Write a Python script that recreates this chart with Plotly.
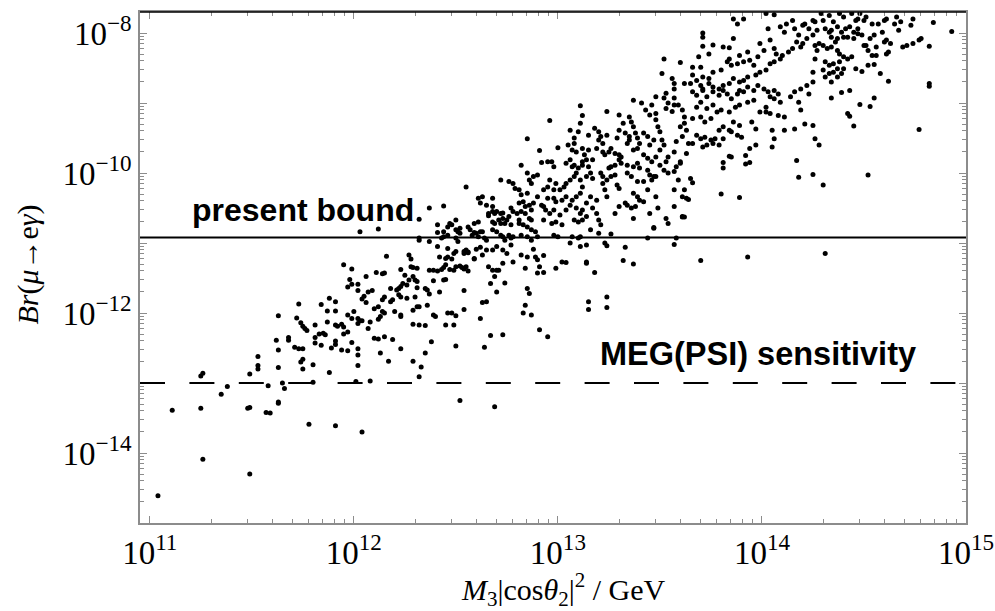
import plotly.graph_objects as go

# log10 values: (log10 M3|cos θ2|^2 / GeV, log10 Br)
pts_low = [
(11.04,-14.61),(11.11,-13.39),(11.25,-13.36),(11.26,-14.09),(11.25,-12.90),(11.26,-12.86),(11.35,-13.16),(11.38,-13.05),
(11.49,-14.30),(11.48,-13.36),(11.49,-13.35),(11.49,-12.87),(11.53,-12.62),(11.53,-12.75),(11.53,-12.80),(11.57,-13.42),
(11.59,-13.43),(11.58,-13.04),(11.62,-12.39),(11.63,-12.04),(11.63,-12.53),(11.63,-12.78),(11.63,-13.29),(11.63,-13.27),
(11.65,-13.00),(11.66,-13.08),(11.68,-12.35),(11.68,-12.39),(11.71,-12.49),(11.72,-12.07),(11.73,-11.87),(11.74,-12.14),
(11.73,-12.51),(11.75,-12.51),(11.74,-12.70),(11.75,-12.66),(11.75,-12.80),(11.75,-12.19),(11.76,-12.22),(11.77,-12.25),
(11.78,-13.59),(11.80,-12.74),(11.80,-12.99),(11.81,-12.43),(11.81,-12.17),(11.81,-12.35),(11.83,-12.30),(11.84,-11.88),
(11.84,-12.46),(11.85,-12.29),(11.86,-12.31),(11.87,-11.97),(11.88,-11.79),(11.87,-12.13),(11.88,-12.85),(11.89,-12.50),
(11.91,-13.61),(11.91,-11.97),(11.91,-11.84),(11.91,-12.17),(11.92,-12.19),(11.91,-12.40),(11.91,-12.45),(11.94,-12.53),
(11.94,-12.16),(11.95,-12.20),(11.95,-12.30),(11.95,-11.31),(11.99,-11.37),(11.98,-11.52),(11.97,-11.63),(11.99,-11.59),
(12.02,-11.59),(12.02,-11.68),(11.97,-12.03),(11.97,-12.27),(11.99,-12.42),(11.97,-12.54),(12.00,-11.98),(11.99,-12.08),
(12.02,-12.08),(12.03,-12.11),(12.02,-12.15),(12.04,-12.11),(12.02,-12.51),(12.02,-12.60),(12.02,-12.75),(12.01,-12.98),
(12.04,-13.70),(12.08,-12.97),(12.06,-11.48),(12.11,-11.42),(12.04,-11.80),(12.06,-11.85),(12.05,-11.76),(12.07,-11.70),
(12.09,-11.68),(12.08,-12.13),(12.07,-12.22),(12.10,-12.36),(12.12,-12.37),(12.10,-11.94),(12.12,-11.91),(12.12,-12.09),
]

pts_mid_low = [
(12.03,-10.84),(12.12,-10.80),(12.16,-11.19),(12.14,-11.44),(12.15,-11.43),(12.23,-11.38),(12.27,-11.17),(12.28,-11.23),
(12.28,-11.34),(12.29,-11.35),(12.31,-11.36),(12.25,-11.46),(12.29,-11.48),(12.27,-11.53),(12.26,-11.60),(12.30,-11.53),
(12.31,-11.55),(12.24,-11.58),(12.23,-11.62),(12.22,-11.65),(12.18,-11.65),(12.22,-11.74),(12.23,-11.77),(12.26,-11.79),
(12.30,-11.77),(12.31,-11.64),(12.35,-11.65),(12.36,-11.67),(12.37,-11.73),(12.36,-11.89),(12.31,-11.91),(12.32,-11.91),
(12.29,-11.96),(12.29,-12.16),(12.32,-12.17),(12.35,-12.18),(12.39,-12.03),(12.40,-12.05),(12.38,-12.41),(12.35,-12.57),
(12.29,-12.69),(12.33,-12.77),(12.32,-12.91),(12.23,-12.51),(12.19,-12.38),(12.17,-12.69),(12.15,-12.34),(12.13,-12.57),
(12.13,-12.05),(12.15,-12.00),(12.14,-11.98),(12.20,-11.98),(12.23,-12.05),(12.23,-12.03),(12.18,-11.84),(12.19,-11.81),
(12.21,-11.67),(12.14,-11.81),(12.15,-11.77),(12.52,-13.25),(12.69,-13.34),(12.50,-12.47),(12.45,-12.17),(12.49,-12.17),
(12.46,-12.00),(12.48,-12.00),(12.50,-12.04),(12.54,-11.95),(12.54,-11.68),(12.42,-11.70),(12.44,-11.53),(12.45,-11.52),
(12.39,-11.54),(12.37,-11.39),(12.39,-11.39),(12.41,-11.40),(12.43,-11.38),(12.44,-11.35),(12.45,-11.31),(12.47,-11.38),
(12.49,-11.39),(12.50,-11.34),(12.52,-11.33),(12.53,-11.35),(12.54,-11.37),(12.56,-11.40),(12.45,-11.22),(12.46,-11.20),
(12.48,-11.23),(12.42,-11.20),(12.41,-11.05),(12.46,-11.08),(12.50,-11.12),(12.49,-11.15),(12.54,-11.12),(12.55,-11.10),
(12.56,-11.13),(12.37,-10.98),(12.32,-10.96),(12.32,-10.93),(12.37,-10.50),(12.44,-10.47),(12.32,-10.66),(12.41,-10.74),
(12.41,-10.85),(12.43,-10.93),(12.44,-10.91),(12.46,-10.89),(12.44,-10.84),(12.46,-10.77),(12.47,-10.72),(12.50,-10.67),
(12.48,-10.74),(12.50,-10.81),(12.51,-10.84),(12.52,-10.79),(12.52,-10.86),(12.50,-10.93),(12.51,-10.98),(12.55,-10.20),
(12.56,-10.77),(12.57,-10.81),(12.58,-10.89),(12.59,-10.85),(12.59,-10.72),(12.60,-10.86),(12.61,-10.70),(12.62,-10.84),
(12.61,-10.91),(12.63,-10.84),(12.64,-10.93),(12.65,-10.96),(12.54,-11.15),(12.56,-11.14),(12.59,-11.22),(12.59,-11.23),
(12.55,-11.34),(12.60,-11.09),(12.62,-11.06),(12.63,-11.17),(12.65,-11.10),(12.68,-11.10),(12.70,-11.05),(12.61,-10.36),
(12.63,-10.34),(12.62,-10.43),(12.65,-10.46),(12.68,-10.36),(12.68,-10.48),(12.70,-10.55),(12.72,-10.58),(12.73,-10.57),
(12.71,-10.67),(12.73,-10.65),(12.75,-10.67),(12.74,-10.72),(12.72,-10.72),(12.76,-10.62),(12.77,-10.74),(12.66,-10.58),
(12.66,-10.61),(12.68,-10.55),(12.69,-10.58),(12.68,-10.70),(12.69,-10.72),(12.68,-10.81),(12.70,-10.84),(12.72,-10.89),
(12.73,-10.91),(12.74,-10.96),(12.76,-10.89),(12.77,-10.93),(12.78,-10.91),(12.66,-11.34),(12.68,-11.39),(12.69,-11.48),
(12.70,-11.39),(12.71,-11.39),(12.67,-11.58),(12.70,-11.70),(12.74,-11.57),(12.73,-11.29),(12.63,-11.85),(12.65,-11.84),
(12.62,-12.08),(12.67,-12.32),(12.64,-12.49),(12.73,-12.31),(12.72,-10.10),(12.76,-10.12),(12.78,-10.15),(12.79,-10.22),
(12.81,-10.24),(12.85,-10.00),(12.86,-10.10),(12.87,-10.15),(12.88,-10.05),(12.90,-10.03),(12.85,-10.29),(12.82,-10.31),
(12.81,-10.43),(12.83,-10.41),(12.84,-10.48),(12.86,-10.46),(12.87,-10.53),(12.88,-10.43),(12.90,-10.34),(12.77,-10.50),
(12.78,-10.55),(12.80,-10.58),(12.82,-10.55),(12.84,-10.58),(12.86,-10.65),(12.87,-10.67),(12.81,-10.67),(12.81,-10.72),
(12.83,-10.74),(12.85,-10.77),(12.87,-10.81),(12.89,-10.84),(12.90,-10.91),(12.87,-10.96),(12.85,-10.91),(12.82,-10.89),
(12.82,-11.17),(12.85,-11.20),(12.88,-11.09),(12.89,-11.20),(12.90,-11.24),(12.84,-11.36),(12.90,-11.43),(12.85,-11.65),
(12.86,-11.72),(12.84,-11.89),(12.83,-12.00),(12.87,-12.03),(12.91,-12.24),(12.78,-11.27),(12.75,-11.15),(12.77,-11.03),
(12.73,-11.10),
]

pts_mid = [
(13.11,-9.04),(13.12,-9.18),(12.96,-9.25),(12.85,-9.51),(12.91,-9.68),(12.82,-9.89),(13.06,-9.39),(13.10,-9.41),
(13.11,-9.29),(13.15,-9.46),(13.08,-9.50),(13.08,-9.58),(13.05,-9.60),(13.07,-9.67),(13.09,-9.70),(13.12,-9.65),
(13.13,-9.74),(13.15,-9.67),(13.14,-9.81),(13.17,-9.81),(13.00,-9.64),(12.92,-9.85),(12.95,-9.84),(12.97,-9.84),
(12.98,-9.91),(13.04,-9.86),(13.06,-9.81),(13.07,-9.91),(13.08,-9.89),(13.10,-9.93),(13.12,-9.84),(13.12,-9.89),
(13.15,-9.91),(13.18,-9.36),(13.20,-9.41),(13.21,-9.48),(13.20,-9.53),(13.22,-9.58),(13.24,-9.46),(13.24,-9.12),
(13.19,-9.65),(13.22,-9.70),(13.23,-9.74),(13.25,-9.70),(13.26,-9.65),(13.28,-9.72),(13.30,-9.74),(13.31,-9.77),
(13.30,-9.81),(13.29,-9.50),(13.30,-9.17),(13.32,-9.29),(13.30,-9.39),(13.33,-9.43),(13.35,-9.48),(13.35,-9.53),
(13.34,-9.58),(13.35,-9.20),(13.36,-9.27),(13.37,-9.34),(13.38,-9.43),(13.39,-9.50),(13.40,-9.58),(13.39,-9.65),
(13.37,-9.67),(13.37,-8.96),(13.41,-9.00),(13.43,-9.10),(13.45,-9.17),(13.46,-9.03),(13.48,-9.15),(13.48,-9.24),
(13.49,-9.34),(13.50,-9.41),(13.51,-9.53),(13.52,-9.60),(13.50,-9.67),(13.48,-9.77),(13.46,-9.84),(13.44,-9.79),
(13.42,-9.74),(13.45,-9.60),(13.47,-9.53),(13.44,-9.48),(13.42,-9.43),(13.53,-9.08),(13.54,-9.00),(13.56,-9.12),
(13.57,-9.03),(13.57,-8.93),(13.59,-9.03),(13.61,-9.10),(13.62,-9.20),(13.62,-9.29),(13.63,-9.39),(13.61,-9.48),
(13.58,-9.55),(13.57,-9.70),(13.54,-9.77),(13.53,-9.84),(13.60,-9.84),(13.63,-9.72),(13.64,-9.58),(13.60,-9.34),
(13.52,-8.93),(13.48,-8.91),(13.53,-8.86),
(12.93,-10.24),(12.95,-10.20),(12.96,-10.10),(12.98,-10.24),(12.99,-10.15),(13.01,-10.24),(13.03,-10.20),(13.04,-10.15),
(13.06,-10.10),(13.08,-10.05),(13.09,-10.00),(13.11,-10.10),(13.12,-10.20),(13.14,-10.05),(13.16,-10.00),(13.17,-10.08),
(13.21,-10.00),(13.22,-10.05),(13.24,-10.10),(13.26,-10.05),(13.28,-10.03),(13.29,-10.17),(13.30,-10.22),(13.22,-10.15),
(13.23,-10.24),(13.24,-10.34),(13.19,-10.39),(13.16,-10.34),(13.14,-10.43),(13.11,-10.29),(13.09,-10.34),(13.07,-10.39),
(13.04,-10.34),(13.02,-10.39),(12.99,-10.41),(12.98,-10.36),(12.95,-10.36),(12.93,-10.48),(12.92,-10.46),(12.94,-10.53),
(12.96,-10.58),(12.98,-10.53),(13.01,-10.60),(12.99,-10.70),(13.02,-10.74),(13.04,-10.53),(13.06,-10.46),(13.09,-10.50),
(13.11,-10.58),(13.12,-10.53),(13.14,-10.62),(13.17,-10.50),(13.19,-10.58),(13.20,-10.67),(13.21,-10.74),(13.20,-10.86),
(13.16,-10.81),(13.12,-10.67),(13.10,-10.70),(13.08,-10.67),(13.07,-10.91),(13.10,-10.93),(13.11,-10.91),(13.00,-10.91),
(12.98,-10.89),(12.97,-10.72),(12.93,-10.67),(13.28,-10.58),(13.30,-10.48),(13.33,-10.43),(13.34,-10.46),(13.36,-10.50),
(13.38,-10.48),(13.37,-10.65),(13.42,-10.41),(13.37,-10.29),(13.39,-10.34),(13.40,-10.39),(13.44,-10.24),(13.46,-10.10),
(13.47,-10.05),(13.48,-10.34),(13.49,-10.50),(13.45,-10.58),(13.47,-10.79),(13.53,-10.65),(13.54,-10.72),(13.57,-10.48),
(13.61,-10.34),(13.62,-10.24),(13.61,-10.62),(13.57,-10.24),(13.54,-10.00),(13.57,-9.98),(13.60,-9.86),(13.59,-10.10),
(13.65,-10.08),(13.63,-10.36),(13.58,-9.91),(13.52,-9.96),(13.50,-9.89),(13.44,-9.96),(13.40,-9.93),(13.39,-9.86),
(13.37,-9.91),(13.34,-9.89),(13.31,-9.86),(13.28,-9.89),(13.26,-9.91),(13.25,-9.93),(13.34,-10.00),(13.36,-10.05),
(13.39,-10.12),(13.42,-10.12),(13.45,-10.03),(13.48,-10.05),
(12.93,-11.18),(12.91,-11.34),(12.93,-11.42),(12.99,-11.36),(13.02,-11.27),(13.04,-11.28),(13.06,-11.00),(13.11,-11.05),
(13.14,-11.03),(13.14,-11.27),(13.14,-11.29),(13.18,-11.42),(13.23,-11.00),(13.24,-11.04),(13.26,-10.87),(13.33,-11.06),
(13.32,-11.25),(13.37,-11.30),(13.44,-10.93),(13.57,-11.02),(13.58,-10.93),(13.61,-10.63),(13.47,-10.78),(13.15,-11.84),
(13.15,-11.95),(13.24,-11.77),(13.24,-11.92),(12.95,-12.34),(14.31,-11.15),(13.70,-11.25),(13.93,-11.20),
]

pts_high = [
(13.86,-7.80),(13.88,-7.87),(13.91,-7.80),(14.02,-7.72),(14.06,-7.74),(13.71,-8.00),(13.71,-8.06),(13.71,-8.19),
(13.76,-8.17),(13.81,-8.20),(13.84,-8.21),(13.86,-8.08),(13.74,-8.30),(13.69,-8.34),(13.52,-8.37),(13.60,-8.42),
(13.51,-8.58),(13.56,-8.65),(13.57,-8.72),(13.57,-8.80),(13.62,-8.72),(13.66,-8.60),(13.66,-8.49),(13.70,-8.49),
(13.65,-8.72),(13.68,-8.68),(13.71,-8.63),(13.74,-8.65),(13.76,-8.56),(13.80,-8.53),(13.83,-8.41),(13.84,-8.37),
(13.85,-8.46),(13.88,-8.44),(13.89,-8.32),(13.93,-8.27),(13.91,-8.41),(13.94,-8.39),(13.96,-8.46),(13.98,-8.34),
(13.99,-8.15),(14.01,-8.25),(14.03,-7.94),(14.04,-8.10),(14.06,-8.22),(14.07,-8.30),(14.09,-7.91),(14.11,-7.99),
(14.12,-7.87),(14.15,-7.82),(14.16,-7.94),(14.18,-8.03),(14.20,-7.89),(14.21,-7.87),(14.23,-7.94),(14.25,-7.82),
(14.25,-8.03),(14.26,-7.84),(14.27,-7.96),(14.22,-8.08),(14.20,-8.15),(14.19,-8.20),(14.17,-8.13),(14.15,-8.22),
(14.13,-8.27),(14.10,-8.32),(14.09,-8.37),(14.06,-8.41),(14.04,-8.44),(14.02,-8.53),(13.99,-8.56),(13.97,-8.60),
(13.93,-8.63),(13.91,-8.68),(13.89,-8.70),(13.86,-8.65),(13.84,-8.72),(13.81,-8.75),(13.79,-8.80),(13.76,-8.77),
(13.74,-8.72),(13.71,-8.80),(13.70,-8.75),(13.66,-8.84),(13.68,-8.89),(13.71,-8.82),(13.73,-8.91),(13.76,-8.84),
(13.79,-8.89),(13.81,-8.82),(13.83,-8.87),(13.85,-8.94),(13.88,-8.87),(13.89,-8.82),(13.91,-8.84),(13.93,-8.77),
(13.96,-8.82),(13.98,-8.75),(14.01,-8.80),(14.03,-8.84),(14.06,-8.82),(14.08,-8.87),(14.04,-8.91),(14.06,-8.94),
(14.02,-9.06),(13.99,-9.13),(14.02,-9.13),(14.04,-9.15),(14.05,-9.39),(14.06,-9.51),(14.05,-9.63),(13.97,-9.60),
(13.94,-9.65),(13.92,-9.75),(13.92,-9.87),(13.94,-9.85),(13.84,-9.76),(13.85,-9.77),(13.81,-9.85),(13.81,-9.93),
(13.80,-10.30),(13.89,-10.35),(13.66,-10.14),(13.64,-10.38),(13.62,-10.63),(13.68,-9.06),(13.70,-8.99),(13.73,-9.08),
(13.76,-9.03),(13.66,-9.22),(13.70,-9.20),(13.72,-9.27),(13.75,-9.22),(13.78,-9.13),(13.80,-9.10),(13.84,-9.13),
(13.87,-9.06),(13.89,-9.03),(13.93,-8.99),(13.96,-8.96),(13.95,-9.27),(13.97,-9.37),(13.89,-9.32),(13.86,-9.27),
(13.85,-9.41),(13.88,-9.46),(13.90,-9.49),(13.84,-9.39),(13.81,-9.34),(13.79,-9.39),(13.77,-9.51),(13.75,-9.53),
(13.72,-9.49),(13.70,-9.51),(13.68,-9.46),(13.66,-9.58),(13.71,-9.63),(13.73,-9.60),(13.76,-9.58),(13.79,-9.60),
(13.81,-9.51),(14.08,-9.18),(14.11,-9.20),(14.11,-9.39),(14.16,-9.37),(14.18,-8.99),(14.19,-9.10),(14.17,-9.82),
(14.18,-10.06),(14.21,-9.30),(14.25,-9.32),(14.25,-10.02),(14.26,-9.51),(14.28,-9.60),(14.09,-8.99),(14.14,-8.91),
(14.16,-8.84),(14.19,-8.80),(14.22,-8.75),(14.25,-8.70),(14.23,-8.87),(14.25,-8.56),(14.26,-8.37),(14.27,-8.25),
(14.26,-8.18),(14.28,-8.15),
(14.29,-7.72),(14.33,-7.75),(14.38,-7.72),(14.44,-7.72),(14.48,-7.72),(14.51,-7.77),(14.50,-7.82),(14.47,-7.80),
(14.40,-7.77),(14.35,-7.84),(14.30,-7.82),(14.31,-7.94),(14.34,-7.96),(14.37,-7.91),(14.39,-7.99),(14.41,-7.94),
(14.43,-7.91),(14.45,-7.99),(14.47,-8.01),(14.49,-8.03),(14.45,-8.08),(14.42,-8.06),(14.40,-8.06),(14.37,-8.08),
(14.36,-8.13),(14.34,-8.06),(14.33,-7.99),(14.30,-8.18),(14.32,-8.22),(14.34,-8.20),(14.37,-8.25),(14.38,-8.30),
(14.40,-8.34),(14.42,-8.37),(14.38,-8.41),(14.35,-8.44),(14.33,-8.46),(14.31,-8.41),(14.30,-8.53),(14.33,-8.58),
(14.35,-8.56),(14.37,-8.63),(14.34,-8.70),(14.31,-8.63),(14.37,-8.51),(14.39,-8.58),(14.40,-8.51),(14.44,-8.34),
(14.46,-8.51),(14.49,-8.55),(14.52,-8.46),(14.55,-8.45),(14.54,-8.32),(14.51,-8.18),(14.53,-8.08),(14.55,-8.03),
(14.57,-7.87),(14.54,-7.87),(14.59,-7.99),(14.60,-8.13),(14.61,-8.10),(14.63,-8.15),(14.62,-8.27),(14.61,-8.30),
(14.56,-8.20),(14.56,-8.32),(14.58,-8.58),(14.62,-8.69),(14.50,-8.18),(14.52,-8.25),(14.47,-7.94),(14.46,-7.82),
(14.60,-7.82),(14.61,-7.80),(14.66,-7.77),(14.68,-7.84),(14.67,-7.96),(14.65,-7.87),(14.73,-7.89),(14.74,-7.80),
(14.69,-8.20),(14.71,-8.18),(14.74,-8.15),(14.78,-8.08),(14.77,-8.10),(14.82,-8.19),(14.84,-7.85),(14.93,-7.98),
(14.82,-8.72),(14.82,-8.76),(14.43,-8.82),(14.39,-8.85),(14.34,-8.93),(14.48,-9.02),(14.53,-9.05),(14.55,-8.93),
(14.42,-9.15),(14.43,-9.19),(14.45,-9.33),(14.77,-9.38),(14.52,-10.03),(14.30,-10.17),
]

present_bound = 1.2e-11
meg_sensitivity = 1.0e-13

x_decades = [11, 12, 13, 14, 15]
y_decades = [-15, -14, -13, -12, -11, -10, -9, -8]
y_labelled = [-14, -12, -10, -8]

all_pts = pts_low + pts_mid_low + pts_mid + pts_high
xs = [10 ** p[0] for p in all_pts]
ys = [10 ** p[1] for p in all_pts]

GRAY = "#8c8c8c"
SERIF = "Liberation Serif"
SANS = "Liberation Sans"

def sup(k):
    return "10<sup>" + (str(k) if k >= 0 else "\u2212" + str(-k)) + "</sup>"

x_minor = [m * 10.0 ** k for k in range(10, 15) for m in range(2, 10)]
y_minor = [m * 10.0 ** k for k in range(-16, -7) for m in range(2, 10)]

fig = go.Figure()
fig.add_trace(go.Scatter(x=xs, y=ys, mode="markers",
                         marker=dict(color="black", size=5, line=dict(width=0)),
                         showlegend=False, hoverinfo="skip"))

fig.add_hline(y=present_bound, line=dict(color="black", width=2))
fig.add_hline(y=meg_sensitivity, line=dict(color="black", width=2, dash="25px,24.4px"))
fig.add_shape(type="line", xref="paper", yref="paper", x0=0, x1=1, y0=1, y1=1,
              line=dict(color="black", width=1.5))

fig.update_xaxes(type="log", range=[10.952, 15.0], automargin=False,
                 tickmode="array", tickvals=[10.0 ** k for k in x_decades],
                 ticktext=[sup(k) for k in x_decades],
                 ticks="inside", ticklen=7, tickwidth=1, tickcolor=GRAY,
                 minor=dict(tickmode="array", tickvals=x_minor, ticks="inside",
                            ticklen=4, tickwidth=1, tickcolor=GRAY, showgrid=False),
                 showline=True, linecolor=GRAY, linewidth=1.5, mirror="ticks",
                 showgrid=False, zeroline=False,
                 tickfont=dict(family=SERIF, size=33, color="black"))
fig.update_yaxes(type="log", range=[-15.0, -7.7], automargin=False,
                 tickmode="array", tickvals=[10.0 ** k for k in y_decades],
                 ticktext=[sup(k) if k in y_labelled else "" for k in y_decades],
                 ticks="inside", ticklen=7, tickwidth=1, tickcolor=GRAY,
                 minor=dict(tickmode="array", tickvals=y_minor, ticks="inside",
                            ticklen=4, tickwidth=1, tickcolor=GRAY, showgrid=False),
                 showline=True, linecolor=GRAY, linewidth=1.5, mirror="ticks",
                 showgrid=False, zeroline=False,
                 tickfont=dict(family=SERIF, size=33, color="black"))

fig.add_annotation(x=11.196, y=-10.53, xref="x", yref="y", xanchor="left", yanchor="middle",
                   text="<b>present bound</b>", showarrow=False,
                   font=dict(family=SANS, size=32, color="black"))
fig.add_annotation(x=13.197, y=-12.58, xref="x", yref="y", xanchor="left", yanchor="middle",
                   text="<b>MEG(PSI) sensitivity</b>", showarrow=False,
                   font=dict(family=SANS, size=32.5, color="black"))

fig.add_annotation(x=0.513, y=-0.1735, xref="paper", yref="paper", xanchor="center", yanchor="bottom",
                   text="<i>M</i><sub>3</sub>|cos<i>\u03b8</i><sub>2</sub>|<sup>2</sup> / GeV",
                   showarrow=False, borderpad=0,
                   font=dict(family=SERIF, size=30, color="black"))
fig.add_annotation(x=-0.136, y=0.505, xref="paper", yref="paper", xanchor="center", yanchor="middle",
                   text="<i>Br</i>(<i>\u03bc</i>\u2192e<i>\u03b3</i>)", textangle=-90,
                   showarrow=False, font=dict(family=SERIF, size=30, color="black"))

fig.update_layout(width=995, height=611, margin=dict(l=140, r=29, t=12, b=88),
                  paper_bgcolor="white", plot_bgcolor="white")

fig.write_html("out.html")
